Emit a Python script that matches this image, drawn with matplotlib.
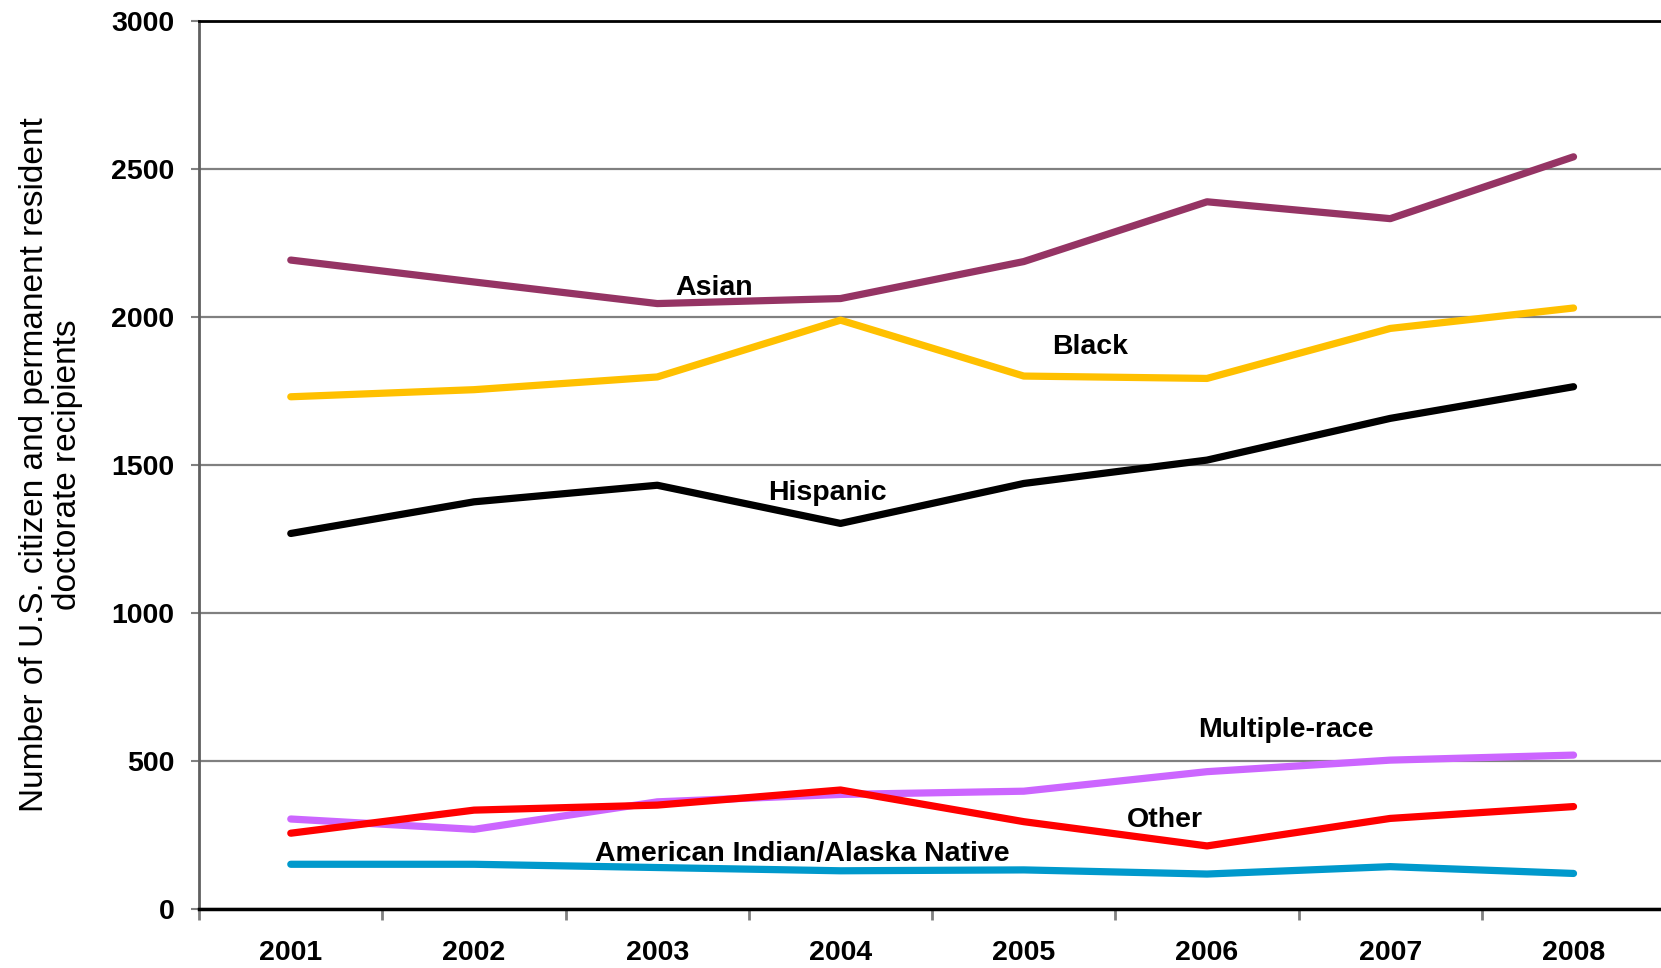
import matplotlib
matplotlib.use("Agg")
import matplotlib.pyplot as plt
from matplotlib.ticker import FixedLocator

plt.rcParams["font.family"] = ["Liberation Sans", "DejaVu Sans"]

years = ["2001", "2002", "2003", "2004", "2005", "2006", "2007", "2008"]

asian = [2193, 2119, 2046, 2063, 2188, 2390, 2333, 2542]
black = [1731, 1755, 1798, 1990, 1801, 1793, 1962, 2031]
hispanic = [1269, 1376, 1432, 1303, 1438, 1517, 1658, 1765]
multiple_race = [304, 269, 362, 387, 398, 464, 503, 520]
other = [256, 334, 351, 402, 295, 213, 306, 346]
american_indian = [151, 151, 140, 129, 132, 118, 143, 120]

series = [
    ("Asian", asian, "#953464"),
    ("Black", black, "#FFC000"),
    ("Hispanic", hispanic, "#000000"),
    ("Multiple-race", multiple_race, "#CC66FF"),
    ("Other", other, "#FF0000"),
    ("American Indian/Alaska Native", american_indian, "#0099CC"),
]

# label anchor points (category index, value)
label_pos = {
    "Asian": (2.31, 2100),
    "Black": (4.36, 1900),
    "Hispanic": (2.93, 1406),
    "Multiple-race": (5.43, 605),
    "Other": (4.77, 300),
    "American Indian/Alaska Native": (2.79, 186),
}

fig = plt.figure(figsize=(16.61, 9.68), dpi=100)
ax = fig.add_axes([0.1199, 0.061, 0.8826, 0.917])

x = list(range(len(years)))
for name, vals, color in series:
    ax.plot(x, vals, color=color, linewidth=5.2, solid_capstyle="round",
            solid_joinstyle="round", zorder=3)
    lx, ly = label_pos[name]
    ax.text(lx, ly, name, ha="center", va="center", fontsize=20.5,
            fontweight="bold", color="black", zorder=4)

ax.set_xlim(-0.5, len(years) - 0.5)
ax.set_ylim(0, 3000)
ax.set_yticks(range(0, 3001, 500))
ax.set_yticklabels([str(v) for v in range(0, 3001, 500)], fontsize=20.5,
                   fontweight="bold")
ax.set_xticks(x)
ax.set_xticklabels(years, fontsize=20.5, fontweight="bold")
ax.xaxis.set_minor_locator(FixedLocator([i - 0.5 for i in range(len(years) + 1)]))
ax.tick_params(axis="x", which="major", length=0, pad=22)
ax.tick_params(axis="x", which="minor", length=8, width=2, color="#808080",
               direction="out")
ax.tick_params(axis="y", length=6, width=1.5, color="#808080", pad=12)

ax.grid(axis="y", color="#808080", linewidth=1.6, zorder=0)
ax.set_axisbelow(True)

ax.spines["right"].set_visible(False)
ax.spines["top"].set_color("black")
ax.spines["top"].set_linewidth(2)
ax.spines["bottom"].set_color("black")
ax.spines["bottom"].set_linewidth(2.5)
ax.spines["left"].set_color("#606060")
ax.spines["left"].set_linewidth(2)

ax.set_ylabel("Number of U.S. citizen and permanent resident\ndoctorate recipients",
              fontsize=24, linespacing=1.1, labelpad=20)

fig.savefig("out.png", dpi=100)
